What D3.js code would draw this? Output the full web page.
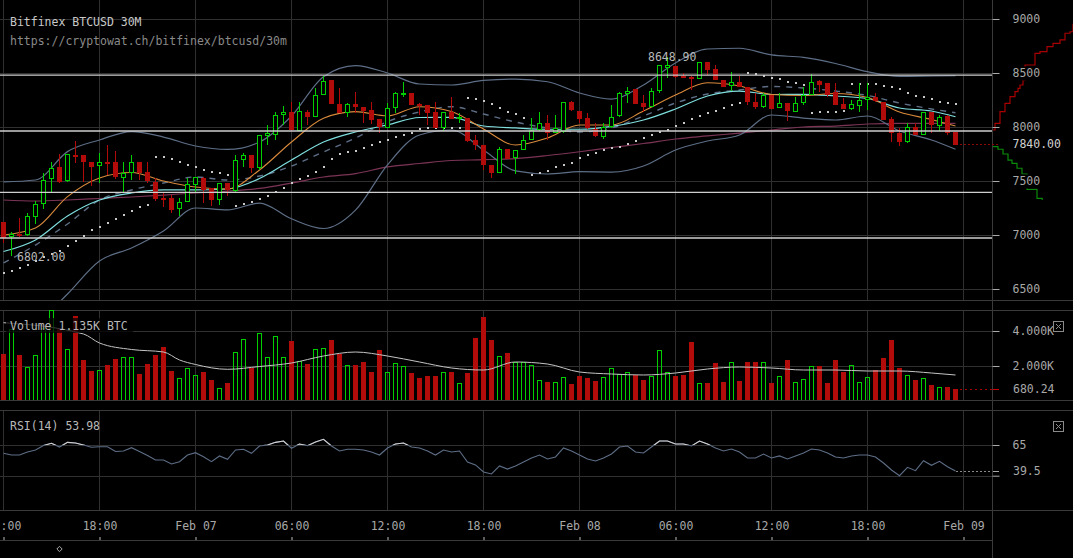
<!DOCTYPE html>
<html><head><meta charset="utf-8">
<script src="https://cdn.jsdelivr.net/npm/d3@7"></script>
<style>
html,body{margin:0;padding:0;background:#000;overflow:hidden;}
svg{display:block;}
text{font-family:"DejaVu Sans Mono",monospace;font-size:11.5px;}
</style></head><body>
<svg id="chart" width="1073" height="558"></svg>
<script>
// ---------------- DATA ----------------
const chartTitle = "Bitfinex BTCUSD 30M";
const chartUrl = "https://cryptowat.ch/bitfinex/btcusd/30m";
const startTime = Date.UTC(2018, 1, 6, 12, 0);   // first candle: Feb 06 12:00
const endTime = Date.UTC(2018, 1, 9, 0, 0);      // Feb 09 00:00
const candleCount = 120;
const priceTicks = [6500, 7000, 7500, 8000, 8500, 9000];
const volumeTicks = [2000, 4000];
const volumeTickLabels = ["2.000K", "4.000K"];
const rsiTicks = [35, 65];
const srLevels = [8481, 7963, 7395, 6972];
const lastPrice = 7840.00;
const highLabel = 8648.90, highIndex = 83;
const lowLabel = 6802.00, lowIndex = 1;
const lastVolume = 680.24;
const lastRsi = 39.5;
const volumeLabel = "Volume 1.135K BTC";
const rsiLabel = "RSI(14) 53.98";

const open = [7120,6985,7010,6997,7167,7287,7518,7630,7494,7745,7738,7676,7640,7680,7676,7535,7580,7679,7586,7494,
7343,7343,7238,7302,7469,7530,7432,7324,7478,7410,7694,7740,7623,7917,7926,8111,8136,7966,8142,8096,
8296,8435,8213,8127,8213,8182,8157,8071,7988,8173,8312,8318,8210,8204,8142,7997,8142,8080,8080,7880,
7833,7648,7577,7796,7710,7787,7880,7966,8034,7941,7947,8229,8151,8080,7978,7910,8003,8096,8312,8349,
8219,8188,8336,8546,8565,8475,8466,8451,8605,8534,8435,8380,8414,8367,8231,8182,8296,8173,8219,8136,
8219,8296,8426,8404,8327,8213,8167,8197,8244,8275,8234,8071,7941,7855,7997,7926,8136,8012,8102,7957];
const high = [7125,7028,7157,7200,7318,7577,7679,7750,7750,7873,7740,7676,7760,7833,7780,7676,7740,7679,7680,7528,
7389,7370,7343,7530,7540,7540,7435,7478,7478,7740,7760,7740,7926,8019,8142,8190,8234,8234,8157,8358,
8475,8435,8358,8225,8321,8182,8234,8071,8225,8321,8420,8318,8219,8204,8234,8142,8275,8127,8080,7926,
7833,7648,7818,7796,7787,7926,8080,8142,8111,8111,8234,8244,8151,8127,8040,8040,8204,8327,8367,8349,
8296,8358,8574,8648.9,8565,8500,8475,8605,8605,8574,8435,8506,8475,8367,8312,8312,8296,8312,8219,8281,
8373,8491,8435,8411,8404,8265,8250,8404,8411,8312,8234,8096,7988,8034,8034,8136,8136,8111,8111,7957];
const low = [6926,6802,6980,6990,7102,7240,7400,7480,7494,7667,7494,7450,7480,7555,7518,7400,7510,7510,7480,7318,
7262,7200,7176,7302,7400,7300,7268,7275,7360,7390,7630,7574,7600,7833,7880,8019,7966,7966,8019,8096,
8296,8210,8127,8096,8127,8034,8025,7941,7988,8127,8280,8204,8111,8019,7997,7966,8080,8034,7864,7787,
7602,7525,7577,7701,7565,7787,7880,7966,7880,7941,7947,8151,8034,7978,7910,7886,7988,8096,8219,8213,
8142,8188,8312,8451,8451,8451,8343,8451,8485,8435,8373,8336,8367,8204,8164,8173,8170,8173,8056,8136,
8204,8296,8327,8281,8210,8167,8157,8142,8157,8234,8065,7864,7824,7855,7926,7926,7941,7963,7926,7840];
const close = [6972,7010,7000,7176,7287,7509,7620,7490,7747,7735,7670,7630,7676,7670,7537,7577,7679,7580,7503,7333,
7330,7231,7302,7469,7540,7423,7318,7478,7410,7694,7740,7623,7926,7941,8111,8136,7966,8148,8096,8296,
8429,8210,8127,8210,8188,8142,8065,7994,8173,8312,8318,8204,8188,8127,7997,8142,8080,8096,7864,7833,
7648,7577,7796,7701,7787,7880,7972,8034,7941,7988,8229,8151,8080,7988,7910,8003,8096,8312,8336,8213,
8182,8336,8574,8574,8460,8460,8447,8605,8534,8435,8373,8414,8367,8225,8182,8296,8170,8219,8142,8219,
8296,8420,8389,8296,8210,8167,8213,8250,8275,8234,8065,7941,7855,7997,7926,8136,8012,8096,7947,7840];
const volume = [2686,4097,2629,1926,2629,4190,5200,4152,2952,4857,2343,1714,1771,2057,2400,2495,2495,1543,2133,2629,
3067,1714,1295,1867,1467,1657,1200,724,1010,2819,3524,1905,3867,2495,3714,2495,3429,2305,2114,2952,
3010,3486,2686,2038,2038,2229,1657,2914,1657,2171,2000,1600,1314,1429,1429,1657,1657,1029,1600,3600,
4800,3486,2571,2743,2229,2229,2057,1200,1086,1086,1371,971,1429,1314,1143,1371,1886,1543,1657,1486,
1200,1429,2914,1657,1429,1486,3371,1029,1029,2171,1086,2229,1143,2229,2229,2229,1029,1429,2343,1086,
1257,2000,2000,1029,2343,1657,2057,1086,1371,1771,2457,3486,1869,1469,1200,1297,914,817,783,680.24];
const rsi = [56.9,55.2,55.2,58.2,60.1,64.5,66.7,63.0,67.6,67.0,65.0,62.8,63.3,63.3,58.7,59.1,62.4,58.7,54.7,50.3,
50.3,46.4,48.7,55.2,57.5,53.6,48.7,54.3,51.0,60.1,60.8,56.9,64.0,65.0,67.6,68.9,61.8,66.0,64.3,67.9,
70.6,64.0,59.1,60.8,60.8,60.1,58.2,55.2,62.1,66.0,67.0,63.0,62.1,59.1,55.2,60.1,58.2,59.1,48.4,45.5,
38.6,36.7,44.5,41.5,44.5,48.4,52.3,55.2,51.3,53.3,62.1,59.1,55.2,51.3,49.4,52.3,56.2,63.0,64.0,58.2,
57.2,63.0,68.9,68.9,66.0,66.0,64.0,68.9,66.0,62.1,59.1,61.1,58.2,52.3,52.3,56.2,52.3,54.3,51.3,54.3,
57.2,61.1,60.1,57.2,53.3,52.3,54.3,55.2,55.2,53.3,47.4,40.6,35.0,43.2,39.9,49.7,45.2,49.1,43.8,39.5];
const sar = [6648,6667,6694,6722,6759,6796,6824,6855,6901,6947,6991,7046,7077,7111,7148,7185,7225,7256,7278,
7725,7725,7701,7679,7648,7627,7602,7586,7571,7556,
7269,7287,7308,7331,7361,7398,7432,7479,7516,7546,7583,7627,7701,7747,7764,7781,7808,7833,7864,7880,7905,7926,7947,7979,7988,7988,7988,7988,7988,
8271,8259,8244,8210,8173,8136,8118,8081,
7556,7571,7595,7627,7648,7669,7716,7741,7762,7787,7803,7818,7843,7873,7901,7926,7951,7972,8009,8040,8071,8102,8127,8151,8178,8201,8218,
8503,8491,8472,8458,8440,8419,8407,8386,
8127,8136,8142,8142,8151,
8398,8398,8398,8398,8382,8373,8349,8318,8290,8275,8256,8234,8219,8210];

// indicator lines, read at these candle indices
const lineIdx = [0,4,8,12,16,20,24,28,32,36,40,44,48,52,56,60,64,68,72,76,80,84,88,92,96,100,104,108,112,116,119];
const bbUpper = [7491,7509,7772,7880,7958,7907,7824,7792,7861,8102,8466,8569,8500,8398,8389,8431,8444,8419,8315,8259,8389,8593,8722,8729,8667,8644,8588,8512,8468,8472,8475];
const bbLower = [5982,6167,6454,6759,6880,7037,7250,7232,7296,7150,7060,7230,7650,7926,7972,7787,7593,7565,7586,7583,7639,7787,7870,7926,8111,8083,8065,8102,7963,7880,7794];
const bbMiddle = [6741,6907,7102,7324,7417,7481,7537,7509,7546,7639,7769,7898,8050,8139,8188,8120,8046,7991,7954,7991,8102,8222,8306,8343,8375,8361,8333,8292,8222,8167,8132];
const emaCyan = [6847,6954,7176,7324,7389,7417,7417,7426,7523,7694,7861,7954,8019,8088,8090,8009,7991,7979,7979,8006,8065,8167,8287,8333,8301,8303,8287,8264,8176,8148,8095];
const emaOrange = [7000,7065,7355,7528,7579,7500,7444,7426,7602,7861,8081,8142,8102,8188,8144,7981,7833,7898,8019,8019,8148,8296,8410,8380,8301,8292,8310,8273,8139,8069,8009];
const maLong = [7324,7315,7324,7338,7352,7370,7389,7407,7431,7481,7537,7569,7630,7662,7690,7697,7708,7736,7771,7810,7847,7889,7917,7944,7972,8000,8009,8028,8034,8034,8034];
const volMaIdx = [0,10,12,16,20,22,24,28,32,36,40,44,48,52,56,60,64,68,72,76,80,84,88,92,96,100,104,108,112,116,119];
const volMa = [4474,3829,3314,2943,2800,2343,2086,1811,1971,2171,2571,2800,2571,2229,1886,1771,2229,2114,1657,1543,1486,1600,1829,1943,1886,1771,1771,1714,1714,1600,1486];

// order book depth (price, cumulative amount)
const askPrice = [7840,7972,8034,8142,8219,8281,8327,8358,8389,8435,8574,8682,8697,8744,8775,8806,8868,8882,8950];
const askCum = [0,60,160,260,360,460,520,560,620,660,860,960,1100,1220,1360,1460,1560,1620,1800];
const bidPrice = [7840,7818,7794,7750,7694,7664,7618,7565,7423,7340,7333];
const bidCum = [0,120,220,320,400,500,600,700,900,1000,1020];

// ---------------- CHART ----------------
const W = 1073, H = 558, plotR = 992;
const mainP = {top: 0, bottom: 300}, volP = {top: 310, bottom: 400}, rsiP = {top: 410, bottom: 510};
const axisBottomY = 540;
const C = {grid: "#303030", border: "#3a3a3a", red: "#b30a0a", green: "#00d000", text: "#a8a8a8",
  band: "#5d6e86", cyan: "#7fdede", orange: "#d98a3c", purple: "#7c3456", sr: "#cfcfcf"};

const times = d3.range(candleCount).map(i => new Date(startTime + i * 30 * 60 * 1000));
const candles = times.map((t, i) => ({t, o: open[i], h: high[i], l: low[i], c: close[i], v: volume[i], r: rsi[i], s: sar[i], up: close[i] >= open[i]}));

const x = d3.scaleUtc().domain([new Date(startTime), new Date(endTime)]).range([3, 963]);
const yP = d3.scaleLinear().domain([6500, 9000]).range([289, 19]);
const yV = d3.scaleLinear().domain([0, 4000]).range([401, 331]);
const yR = d3.scaleLinear().domain([35, 65]).range([475.7, 445]);
const xDepth = d3.scaleLinear().domain([0, 1620]).range([992, 1073]);

const svg = d3.select("#chart");
svg.append("rect").attr("width", W).attr("height", H).attr("fill", "#000");
const defs = svg.append("defs");
function clip(id, x0, y0, w, h) {
  defs.append("clipPath").attr("id", id).append("rect").attr("x", x0).attr("y", y0).attr("width", w).attr("height", h);
  return "url(#" + id + ")";
}
const clipMain = clip("cm", 0, mainP.top, plotR, mainP.bottom - mainP.top);
const clipVol = clip("cv", 0, volP.top, plotR, volP.bottom - volP.top);
const clipRsi = clip("cr", 0, rsiP.top, plotR, rsiP.bottom - rsiP.top);
const clipRsiHi = clip("crh", 0, rsiP.top, plotR, yR(65) - rsiP.top);
const clipDepth = clip("cd", 993, 0, 80, mainP.bottom);

const timeTicks = x.ticks(d3.utcHour.every(6));

// grid
const grid = svg.append("g").attr("stroke", C.grid).attr("stroke-width", 1).attr("shape-rendering", "crispEdges");
[mainP, volP, rsiP].forEach(p => {
  timeTicks.forEach(t => grid.append("line").attr("x1", x(t) + 0.5).attr("x2", x(t) + 0.5).attr("y1", p.top).attr("y2", p.bottom));
});
priceTicks.forEach(v => grid.append("line").attr("x1", 0).attr("x2", plotR).attr("y1", Math.round(yP(v)) + 0.5).attr("y2", Math.round(yP(v)) + 0.5));
volumeTicks.forEach(v => grid.append("line").attr("x1", 0).attr("x2", plotR).attr("y1", Math.round(yV(v)) + 0.5).attr("y2", Math.round(yV(v)) + 0.5));
rsiTicks.forEach(v => grid.append("line").attr("x1", 0).attr("x2", plotR).attr("y1", Math.round(yR(v)) + 0.5).attr("y2", Math.round(yR(v)) + 0.5));

// borders
const bd = svg.append("g").attr("stroke", C.border).attr("shape-rendering", "crispEdges");
[300, 310, 400, 410, 510].forEach(yy => bd.append("line").attr("x1", 0).attr("x2", W).attr("y1", yy + 0.5).attr("y2", yy + 0.5));
bd.append("line").attr("x1", 0).attr("x2", plotR).attr("y1", axisBottomY + 0.5).attr("y2", axisBottomY + 0.5);
bd.append("line").attr("x1", plotR + 0.5).attr("x2", plotR + 0.5).attr("y1", 0).attr("y2", H);

// title
svg.append("text").attr("x", 10).attr("y", 25.5).attr("fill", "#c8c8c8").text(chartTitle);
svg.append("text").attr("x", 10).attr("y", 45).attr("fill", "#8a8a8a").text(chartUrl);

// main panel indicators
const gm = svg.append("g").attr("clip-path", clipMain);
function idxLine(idx, vals, yScale) {
  return d3.line().x((d, k) => x(times[idx[k]]) + 0.5).y(d => yScale(d)).curve(d3.curveMonotoneX)(vals);
}
gm.append("path").attr("d", idxLine(lineIdx, maLong, yP)).attr("fill", "none").attr("stroke", C.purple).attr("stroke-width", 1.2);
gm.append("path").attr("d", idxLine(lineIdx, bbUpper, yP)).attr("fill", "none").attr("stroke", C.band).attr("stroke-width", 1.2);
gm.append("path").attr("d", idxLine(lineIdx, bbLower, yP)).attr("fill", "none").attr("stroke", C.band).attr("stroke-width", 1.2);
gm.append("path").attr("d", idxLine(lineIdx, bbMiddle, yP)).attr("fill", "none").attr("stroke", C.band).attr("stroke-width", 1.4).attr("stroke-dasharray", "6,6");
gm.append("path").attr("d", idxLine(lineIdx, emaCyan, yP)).attr("fill", "none").attr("stroke", C.cyan).attr("stroke-width", 1.2);
gm.append("path").attr("d", idxLine(lineIdx, emaOrange, yP)).attr("fill", "none").attr("stroke", C.orange).attr("stroke-width", 1.1);

// SAR dots
gm.selectAll("rect.sar").data(candles).join("rect").attr("class", "sar")
  .attr("x", d => x(d.t)).attr("y", d => Math.round(yP(d.s)) - 1).attr("width", 2).attr("height", 2).attr("fill", "#c8c8c8");

// candles
const gc = gm.append("g").attr("shape-rendering", "crispEdges");
gc.selectAll("line").data(candles).join("line")
  .attr("x1", d => x(d.t) + 0.5).attr("x2", d => x(d.t) + 0.5)
  .attr("y1", d => Math.round(yP(d.h))).attr("y2", d => Math.round(yP(d.l)))
  .attr("stroke", d => d.up ? C.green : C.red);
gc.selectAll("rect").data(candles).join("rect")
  .attr("x", d => d.up ? x(d.t) - 1.5 : x(d.t) - 2)
  .attr("y", d => Math.round(yP(Math.max(d.o, d.c))) + (d.up ? 0.5 : 0))
  .attr("width", d => d.up ? 4 : 5)
  .attr("height", d => Math.max(d.up ? 1 : 2, Math.round(Math.abs(yP(d.o) - yP(d.c))) - (d.up ? 1 : 0)))
  .attr("fill", d => d.up ? "#000" : C.red)
  .attr("stroke", d => d.up ? C.green : "none");

// support / resistance lines
srLevels.forEach(v => gm.append("line").attr("x1", 0).attr("x2", plotR).attr("y1", yP(v)).attr("y2", yP(v)).attr("stroke", C.sr).attr("stroke-width", 1.3));

// hi/lo labels
svg.append("text").attr("x", 648).attr("y", 61).attr("fill", "#b8b8b8").text(highLabel.toFixed(2));
svg.append("text").attr("x", 17).attr("y", 261).attr("fill", "#b8b8b8").text(lowLabel.toFixed(2));

// last price dotted line
svg.append("line").attr("x1", x(times[candleCount - 1]) + 5).attr("x2", 999).attr("y1", Math.round(yP(lastPrice)) + 0.5).attr("y2", Math.round(yP(lastPrice)) + 0.5)
  .attr("stroke", "#8a0a0a").attr("stroke-dasharray", "2,2");

// depth chart
const gd = svg.append("g").attr("clip-path", clipDepth);
gd.append("path").attr("d", d3.line().x((d, k) => xDepth(askCum[k])).y(d => yP(d)).curve(d3.curveStepBefore)(askPrice))
  .attr("fill", "none").attr("stroke", "#a80000").attr("stroke-width", 1.2);
gd.append("path").attr("d", d3.line().x((d, k) => xDepth(bidCum[k])).y(d => yP(d)).curve(d3.curveStepBefore)(bidPrice))
  .attr("fill", "none").attr("stroke", "#0a8a0a").attr("stroke-width", 1.2);

// price axis
const pAxis = svg.append("g").attr("transform", `translate(${plotR + 0.5},0)`)
  .call(d3.axisRight(yP).tickValues(priceTicks).tickSize(7).tickPadding(13).tickFormat(d3.format("d")));
pAxis.select(".domain").remove();
pAxis.selectAll(".tick line").attr("stroke", "#aaa");
pAxis.selectAll(".tick").insert("rect", "text").attr("x", 16).attr("y", -7).attr("width", 34).attr("height", 14).attr("fill", "#000");
pAxis.selectAll(".tick text").attr("fill", C.text).style("font-family", "DejaVu Sans Mono").style("font-size", "11.5px");
const lp = svg.append("g").attr("transform", `translate(${plotR + 0.5},${yP(lastPrice)})`);
lp.append("rect").attr("x", 16).attr("y", -7).attr("width", 54).attr("height", 14).attr("fill", "#000");
lp.append("text").attr("x", 20).attr("dy", "0.32em").attr("fill", "#d0d0d0").text(lastPrice.toFixed(2));

// volume panel
const gv = svg.append("g").attr("clip-path", clipVol).attr("shape-rendering", "crispEdges");
gv.selectAll("rect").data(candles).join("rect")
  .attr("x", d => d.up ? x(d.t) - 1.5 : x(d.t) - 2)
  .attr("y", d => Math.round(yV(d.v)) + (d.up ? 0.5 : 0))
  .attr("width", d => d.up ? 4 : 5)
  .attr("height", d => Math.max(1, Math.round(yV(0) - yV(d.v))))
  .attr("fill", d => d.up ? "none" : C.red)
  .attr("stroke", d => d.up ? C.green : "none");
svg.append("g").attr("clip-path", clipVol).append("path").attr("d", idxLine(volMaIdx, volMa, yV))
  .attr("fill", "none").attr("stroke", "#c4c4c4").attr("stroke-width", 1);
svg.append("rect").attr("x", 6).attr("y", 318).attr("width", 127).attr("height", 15).attr("fill", "rgba(0,0,0,0.72)");
svg.append("text").attr("x", 10).attr("y", 330).attr("fill", "#b8b8b8").text(volumeLabel);
const vAxis = svg.append("g").attr("transform", `translate(${plotR + 0.5},0)`)
  .call(d3.axisRight(yV).tickValues(volumeTicks).tickSize(7).tickPadding(13).tickFormat((d, k) => volumeTickLabels[k]));
vAxis.select(".domain").remove();
vAxis.selectAll(".tick line").attr("stroke", "#aaa");
vAxis.selectAll(".tick text").attr("fill", C.text).style("font-family", "DejaVu Sans Mono").style("font-size", "11.5px");
svg.append("line").attr("x1", x(times[candleCount - 1]) + 5).attr("x2", plotR).attr("y1", Math.round(yV(lastVolume)) + 0.5).attr("y2", Math.round(yV(lastVolume)) + 0.5)
  .attr("stroke", "#a00").attr("stroke-dasharray", "2,3");
svg.append("line").attr("x1", plotR + 1).attr("x2", 999).attr("y1", Math.round(yV(lastVolume)) + 0.5).attr("y2", Math.round(yV(lastVolume)) + 0.5).attr("stroke", "#c00");
svg.append("text").attr("x", 1013).attr("y", yV(lastVolume)).attr("dy", "0.32em").attr("fill", C.text).text(lastVolume.toFixed(2));

// RSI panel
const rsiLine = d3.line().x(d => x(d.t) + 0.5).y(d => yR(d.r));
svg.append("g").attr("clip-path", clipRsi).append("path").attr("d", rsiLine(candles)).attr("fill", "none").attr("stroke", C.band).attr("stroke-width", 1.1);
svg.append("g").attr("clip-path", clipRsiHi).append("path").attr("d", rsiLine(candles)).attr("fill", "none").attr("stroke", "#d0d0d0").attr("stroke-width", 1.1);
svg.append("text").attr("x", 10).attr("y", 430).attr("fill", "#b8b8b8").text(rsiLabel);
const rAxis = svg.append("g").attr("transform", `translate(${plotR + 0.5},0)`)
  .call(d3.axisRight(yR).tickValues(rsiTicks).tickSize(7).tickPadding(13).tickFormat(d => d === 65 ? "65" : ""));
rAxis.select(".domain").remove();
rAxis.selectAll(".tick line").attr("stroke", "#aaa");
rAxis.selectAll(".tick text").attr("fill", C.text).style("font-family", "DejaVu Sans Mono").style("font-size", "11.5px");
svg.append("line").attr("x1", x(times[candleCount - 1]) + 1).attr("x2", plotR).attr("y1", Math.round(yR(lastRsi)) + 0.5).attr("y2", Math.round(yR(lastRsi)) + 0.5)
  .attr("stroke", "#888").attr("stroke-dasharray", "2,2");
svg.append("line").attr("x1", plotR + 1).attr("x2", 999).attr("y1", Math.round(yR(lastRsi)) + 0.5).attr("y2", Math.round(yR(lastRsi)) + 0.5).attr("stroke", "#aaa");
svg.append("text").attr("x", 1013).attr("y", yR(lastRsi)).attr("dy", "0.32em").attr("fill", C.text).text(String(lastRsi));

// close boxes
[[1053, 321], [1053, 421]].forEach(([bx, by]) => {
  const g = svg.append("g").attr("stroke", "#8a8a8a").attr("fill", "none").attr("shape-rendering", "crispEdges");
  g.append("rect").attr("x", bx + 0.5).attr("y", by + 0.5).attr("width", 10).attr("height", 10);
  g.append("path").attr("d", `M${bx + 3},${by + 3}L${bx + 8},${by + 8}M${bx + 8},${by + 3}L${bx + 3},${by + 8}`).attr("shape-rendering", "auto");
});

// time axis
const fmt = d => (d.getUTCHours() === 0 ? d3.utcFormat("%b %d")(d) : d3.utcFormat("%H:%M")(d));
const tAxis = svg.append("g").attr("transform", `translate(0.5,${axisBottomY})`)
  .call(d3.axisTop(x).tickValues(timeTicks).tickSize(3).tickPadding(7).tickFormat(fmt));
tAxis.select(".domain").remove();
tAxis.selectAll(".tick line").attr("stroke", "#bbb");
tAxis.selectAll(".tick text").attr("fill", C.text).style("font-family", "DejaVu Sans Mono").style("font-size", "11.5px");

// bottom diamond marker
svg.append("path").attr("d", d3.symbol(d3.symbolDiamond2, 18)()).attr("transform", "translate(59.5,549)")
  .attr("fill", "none").attr("stroke", "#aaa");
</script>
</body></html>
